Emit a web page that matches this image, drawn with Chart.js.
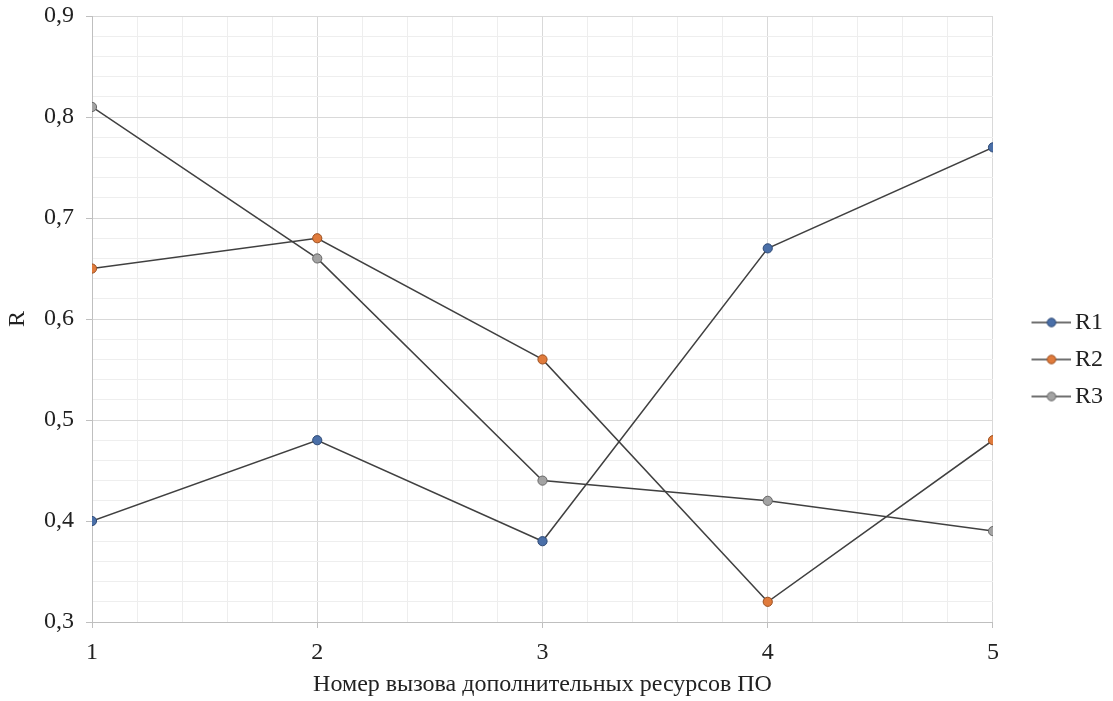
<!DOCTYPE html>
<html>
<head>
<meta charset="utf-8">
<script src="https://cdn.jsdelivr.net/npm/chart.js@4"></script>
<style>
html,body{margin:0;padding:0;background:#fff;}
#wrap{width:1113px;height:701px;position:relative;}
</style>
</head>
<body>
<div id="wrap"><canvas id="c" width="1113" height="701"></canvas></div>
<script>
const xValues = [1, 2, 3, 4, 5];
const seriesNames = ["R1", "R2", "R3"];
const r1 = [0.40, 0.48, 0.38, 0.67, 0.77];
const r2 = [0.65, 0.68, 0.56, 0.32, 0.48];
const r3 = [0.81, 0.66, 0.44, 0.42, 0.39];
const xTitle = "Номер вызова дополнительных ресурсов ПО";
const yTitle = "R";

const fills = ["#4a6fa8", "#e07b3c", "#a3a3a3"];
const borders = ["#2f4a75", "#9a4f20", "#666666"];
const lineColor = "#404040";
const font = "'Liberation Serif', 'Times New Roman', serif";
const FS = 24;

function legendIcon(fill, border) {
  const c = document.createElement('canvas');
  c.width = 74; c.height = 12;
  const g = c.getContext('2d');
  g.strokeStyle = lineColor; g.lineWidth = 1.5;
  g.beginPath(); g.moveTo(34, 6); g.lineTo(74, 6); g.stroke();
  g.fillStyle = fill; g.strokeStyle = border; g.lineWidth = 1;
  g.beginPath(); g.arc(54, 6, 4.3, 0, Math.PI * 2); g.fill(); g.stroke();
  return c;
}

const allSeries = [r1, r2, r3];
const icons = allSeries.map((_, i) => legendIcon(fills[i], borders[i]));
const datasets = allSeries.map((vals, i) => ({
  label: seriesNames[i],
  data: xValues.map((x, j) => ({x: x, y: vals[j]})),
  borderColor: lineColor,
  borderWidth: 1.5,
  backgroundColor: fills[i],
  pointBackgroundColor: fills[i],
  pointBorderColor: borders[i],
  pointBorderWidth: 1,
  pointRadius: 4.6,
  pointStyle: 'circle',
  tension: 0,
  fill: false
}));

const isMajor = (v, step) => Math.abs(Math.round(v / step) * step - v) < 1e-6;

new Chart(document.getElementById('c'), {
  type: 'line',
  data: { datasets },
  options: {
    responsive: false,
    animation: false,
    devicePixelRatio: 1,
    layout: { padding: { top: 0, left: 0, right: 0, bottom: 0 } },
    plugins: {
      tooltip: { enabled: false },
      legend: {
        position: 'right',
        align: 'center',
        title: { display: true, text: ' ', font: { size: 10 }, padding: { top: 0, bottom: 6 } },
        labels: {
          usePointStyle: true,
          pointStyleWidth: 57,
          padding: 13,
          color: '#222',
          font: { family: font, size: FS },
          generateLabels(chart) {
            return chart.data.datasets.map((d, i) => ({
              text: d.label,
              pointStyle: icons[i],
              fillStyle: d.backgroundColor,
              strokeStyle: 'transparent',
              lineWidth: 0,
              fontColor: '#222',
              datasetIndex: i,
              hidden: false
            }));
          }
        }
      }
    },
    scales: {
      x: {
        type: 'linear',
        min: 1, max: 5,
        afterFit(s) { s.height = 79; },
        ticks: {
          stepSize: 0.2,
          autoSkip: false,
          maxRotation: 0,
          color: '#222',
          padding: 10,
          font: { family: font, size: FS },
          callback: v => isMajor(v, 1) ? String(Math.round(v)) : ''
        },
        grid: {
          color: ctx => (ctx.tick && isMajor(ctx.tick.value, 1)) ? '#d9d9d9' : '#eeeeee',
          tickColor: ctx => (ctx.tick && isMajor(ctx.tick.value, 1)) ? '#bfbfbf' : 'rgba(0,0,0,0)',
          tickLength: 6,
          lineWidth: 1
        },
        border: { color: '#bfbfbf', width: 1 },
        title: {
          display: true, text: xTitle, color: '#222',
          font: { family: font, size: FS }, padding: { top: 0, bottom: 2 }
        }
      },
      y: {
        min: 0.3, max: 0.9,
        afterFit(s) { s.width = 92; },
        ticks: {
          stepSize: 0.02,
          autoSkip: false,
          color: '#222',
          padding: 12,
          font: { family: font, size: FS, lineHeight: 0.34 },
          callback: v => isMajor(v, 0.1) ? v.toFixed(1).replace('.', ',') : ''
        },
        grid: {
          color: ctx => (ctx.tick && isMajor(ctx.tick.value, 0.1)) ? '#d9d9d9' : '#eeeeee',
          tickColor: ctx => (ctx.tick && isMajor(ctx.tick.value, 0.1)) ? '#bfbfbf' : 'rgba(0,0,0,0)',
          tickLength: 6,
          lineWidth: 1
        },
        border: { color: '#bfbfbf', width: 1 },
        title: {
          display: true, text: yTitle, color: '#222',
          font: { family: font, size: FS }, padding: { top: 3, bottom: 0 }
        }
      }
    }
  }
});
</script>
</body>
</html>
